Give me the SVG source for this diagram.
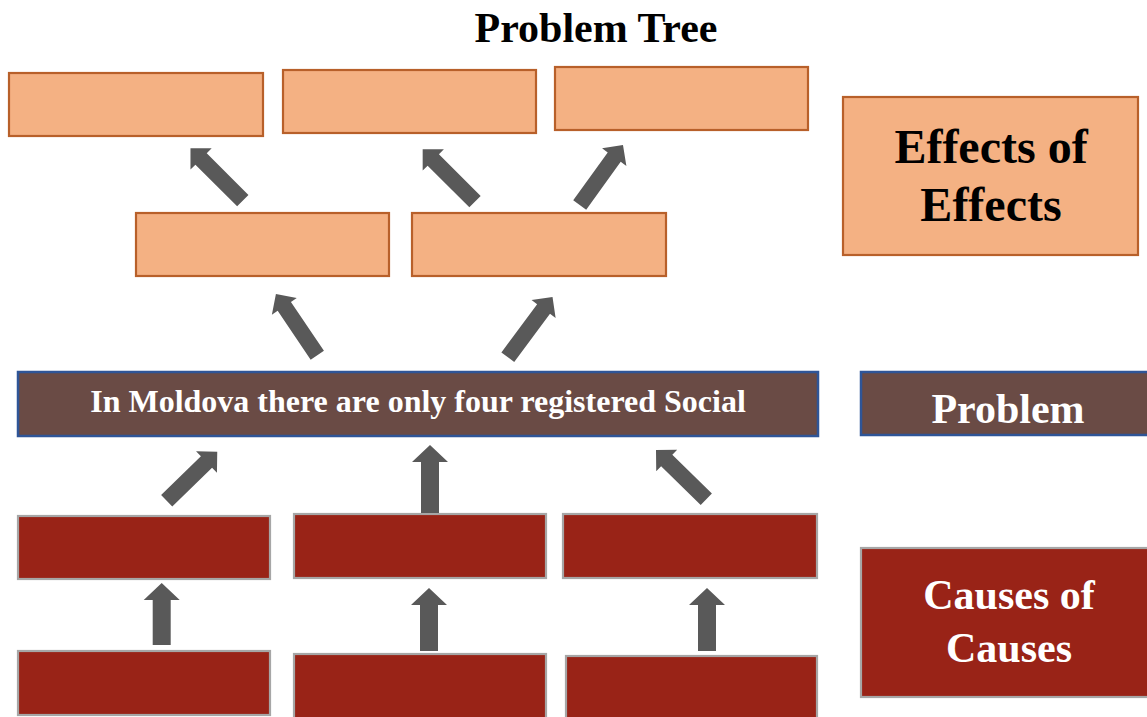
<svg xmlns="http://www.w3.org/2000/svg" width="1147" height="717" viewBox="0 0 1147 717">
<style>
.eff{fill:#F4B183;stroke:#B8602A;stroke-width:2.2}
.prob{fill:#6A4B45;stroke:#2F5597;stroke-width:2.5}
.cause{fill:#992317;stroke:#A6A6A6;stroke-width:2.2}
.arr{fill:#595959}
.t{font-family:"Liberation Serif","Times New Roman",serif;font-weight:bold;text-anchor:middle}
.w{fill:#FFFFFF}
.k{fill:#000000}
</style>
<rect width="1147" height="717" fill="#FFFFFF"/>
<text id="title" class="t k" x="596" y="42" font-size="42">Problem Tree</text>
<g id="effect-1"><rect class="eff" x="9" y="73" width="254" height="63"/></g>
<g id="effect-2"><rect class="eff" x="283" y="70" width="253" height="63"/></g>
<g id="effect-3"><rect class="eff" x="555" y="67" width="253" height="63"/></g>
<g id="effect-4"><rect class="eff" x="136" y="213" width="253" height="63"/></g>
<g id="effect-5"><rect class="eff" x="412" y="213" width="254" height="63"/></g>
<g id="label-effects"><rect class="eff" x="843" y="97" width="295" height="158"/>
<text class="t k" x="991" y="163" font-size="48">Effects of</text>
<text class="t k" x="991" y="221" font-size="48">Effects</text></g>
<g id="problem"><rect class="prob" x="18" y="372" width="800" height="64"/>
<text class="t w" x="418" y="412" font-size="32">In Moldova there are only four registered Social</text></g>
<g id="label-problem"><rect class="prob" x="861" y="372" width="290" height="63"/>
<text class="t w" x="1008" y="423" font-size="42">Problem</text></g>
<g id="cause-1"><rect class="cause" x="18" y="516" width="252" height="63"/></g>
<g id="cause-2"><rect class="cause" x="294" y="514" width="252" height="64"/></g>
<g id="cause-3"><rect class="cause" x="563" y="514" width="254" height="64"/></g>
<g id="cause-4"><rect class="cause" x="18" y="651" width="252" height="64"/></g>
<g id="cause-5"><rect class="cause" x="294" y="654" width="252" height="66"/></g>
<g id="cause-6"><rect class="cause" x="566" y="656" width="251" height="64"/></g>
<g id="label-causes"><rect class="cause" x="861" y="548" width="290" height="149"/>
<text class="t w" x="1009" y="609" font-size="42">Causes of</text>
<text class="t w" x="1009" y="662" font-size="42">Causes</text></g>
<g id="connectors">
<polygon class="arr" transform="translate(242.8,200.7) rotate(-45)" points="-8,0 8,0 8,-59 15,-59 0,-74 -15,-59 -8,-59"/>
<polygon class="arr" transform="translate(475,201.7) rotate(-45)" points="-8,0 8,0 8,-59 15,-59 0,-74 -15,-59 -8,-59"/>
<polygon class="arr" transform="translate(579.7,205) rotate(35.8)" points="-8,0 8,0 8,-59 15,-59 0,-74 -15,-59 -8,-59"/>
<polygon class="arr" transform="translate(317.3,355.3) rotate(-34)" points="-8,0 8,0 8,-59 15,-59 0,-74 -15,-59 -8,-59"/>
<polygon class="arr" transform="translate(507.8,357.2) rotate(36.6)" points="-8,0 8,0 8,-60 15,-60 0,-75 -15,-60 -8,-60"/>
<polygon class="arr" transform="translate(166.7,500.8) rotate(45.8)" points="-8,0 8,0 8,-55.5 15,-55.5 0,-70.5 -15,-55.5 -8,-55.5"/>
<polygon class="arr" transform="translate(706.3,499.2) rotate(-45.6)" points="-8,0 8,0 8,-55.4 15,-55.4 0,-70.4 -15,-55.4 -8,-55.4"/>
<polygon class="arr" transform="translate(430,513)" points="-9,0 9,0 9,-51 18,-51 0,-68 -18,-51 -9,-51"/>
<polygon class="arr" transform="translate(161.7,645)" points="-9,0 9,0 9,-45 18,-45 0,-62 -18,-45 -9,-45"/>
<polygon class="arr" transform="translate(429,651)" points="-9,0 9,0 9,-46 18,-46 0,-63 -18,-46 -9,-46"/>
<polygon class="arr" transform="translate(707,651)" points="-9,0 9,0 9,-46 18,-46 0,-63 -18,-46 -9,-46"/>
</g>
</svg>
